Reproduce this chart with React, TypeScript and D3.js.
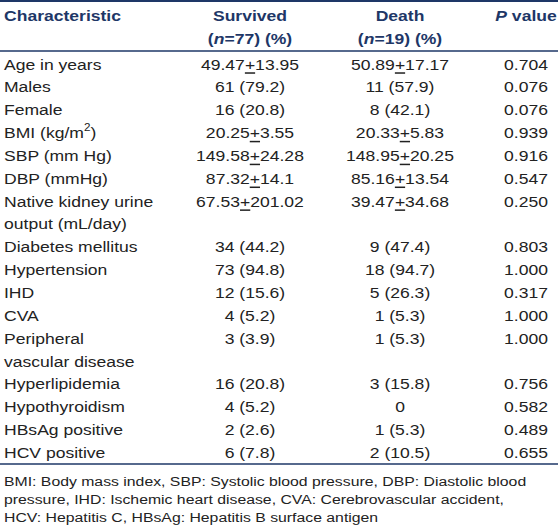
import React from "react";
import * as d3 from "d3";

const characteristics: string[][] = [
  ["Age in years"],
  ["Males"],
  ["Female"],
  ["BMI (kg/m²)"],
  ["SBP (mm Hg)"],
  ["DBP (mmHg)"],
  ["Native kidney urine", "output (mL/day)"],
  ["Diabetes mellitus"],
  ["Hypertension"],
  ["IHD"],
  ["CVA"],
  ["Peripheral", "vascular disease"],
  ["Hyperlipidemia"],
  ["Hypothyroidism"],
  ["HBsAg positive"],
  ["HCV positive"],
];
const survived: string[] = [
  "49.47±13.95", "61 (79.2)", "16 (20.8)", "20.25±3.55", "149.58±24.28", "87.32±14.1",
  "67.53±201.02", "34 (44.2)", "73 (94.8)", "12 (15.6)", "4 (5.2)", "3 (3.9)",
  "16 (20.8)", "4 (5.2)", "2 (2.6)", "6 (7.8)",
];
const death: string[] = [
  "50.89±17.17", "11 (57.9)", "8 (42.1)", "20.33±5.83", "148.95±20.25", "85.16±13.54",
  "39.47±34.68", "9 (47.4)", "18 (94.7)", "5 (26.3)", "1 (5.3)", "1 (5.3)",
  "3 (15.8)", "0", "1 (5.3)", "2 (10.5)",
];
const pValues: string[] = [
  "0.704", "0.076", "0.076", "0.939", "0.916", "0.547", "0.250", "0.803", "1.000",
  "0.317", "1.000", "1.000", "0.756", "0.582", "0.489", "0.655",
];
const footnote: string[] = [
  "BMI: Body mass index, SBP: Systolic blood pressure, DBP: Diastolic blood",
  "pressure, IHD: Ischemic heart disease, CVA: Cerebrovascular accident,",
  "HCV: Hepatitis C, HBsAg: Hepatitis B surface antigen",
];

const W = 558, H = 531;
const NAVY = "#1e3767";
const TEXT = "#222222";
const SX = 1.17;

function renderPM(s: string) {
  const parts = s.split("±");
  if (parts.length === 1) return s;
  return (
    <>
      {parts[0]}
      <tspan textDecoration="underline">+</tspan>
      {parts[1]}
    </>
  );
}

function renderLabel(s: string) {
  if (s.includes("²")) {
    const [a, b] = s.split("²");
    return (
      <>
        {a}
        <tspan fontSize={10} dy={-5}>2</tspan>
        <tspan dy={5}>{b}</tspan>
      </>
    );
  }
  return s;
}

const T = ({ x, y, anchor = "start", children, bold = false, color = TEXT, size = 15 }: any) => (
  <g transform={`translate(${x},${y}) scale(${SX},1)`}>
    <text textAnchor={anchor} fontSize={size} fontWeight={bold ? "bold" : "normal"} fill={color} dominantBaseline="central">
      {children}
    </text>
  </g>
);

export default function App() {
  // assign line indices
  const lineStart: number[] = [];
  let idx = 0;
  characteristics.forEach((c) => {
    lineStart.push(idx);
    idx += c.length;
  });
  const totalLines = idx;
  const y = d3.scaleLinear().domain([0, totalLines - 1]).range([64, 452.5]);
  const col = { label: 4, surv: 250, death: 400, p: 526 };
  const fy = d3.scaleLinear().domain([0, 2]).range([481, 517]);

  return (
    <svg width={W} height={H} style={{ display: "block", position: "absolute", left: 0, top: 0, background: "#fff" }}
      fontFamily="'Liberation Sans', Arial, Helvetica, sans-serif">
      <rect width={W} height={H} fill="#fff" />
      <line x1={0} x2={W} y1={1} y2={1} stroke={NAVY} strokeWidth={2} />
      <T x={col.label} y={15} bold color={NAVY}>Characteristic</T>
      <T x={col.surv} y={15} anchor="middle" bold color={NAVY}>Survived</T>
      <T x={col.surv} y={38} anchor="middle" bold color={NAVY}>(<tspan fontStyle="italic">n</tspan>=77) (%)</T>
      <T x={col.death} y={15} anchor="middle" bold color={NAVY}>Death</T>
      <T x={col.death} y={38} anchor="middle" bold color={NAVY}>(<tspan fontStyle="italic">n</tspan>=19) (%)</T>
      <T x={col.p} y={15} anchor="middle" bold color={NAVY}><tspan fontStyle="italic">P</tspan> value</T>
      <line x1={0} x2={W} y1={51} y2={51} stroke={NAVY} strokeWidth={1.5} />
      {characteristics.map((c, i) => (
        <g key={i}>
          {c.map((l, j) => (
            <T key={j} x={col.label} y={y(lineStart[i] + j)}>{renderLabel(l)}</T>
          ))}
          <T x={col.surv} y={y(lineStart[i])} anchor="middle">{renderPM(survived[i])}</T>
          <T x={col.death} y={y(lineStart[i])} anchor="middle">{renderPM(death[i])}</T>
          <T x={col.p} y={y(lineStart[i])} anchor="middle">{pValues[i]}</T>
        </g>
      ))}
      <line x1={0} x2={W} y1={464} y2={464} stroke={NAVY} strokeWidth={1.5} />
      {footnote.map((f, i) => (
        <T key={i} x={4} y={fy(i)} size={13.5}>{f}</T>
      ))}
    </svg>
  );
}
